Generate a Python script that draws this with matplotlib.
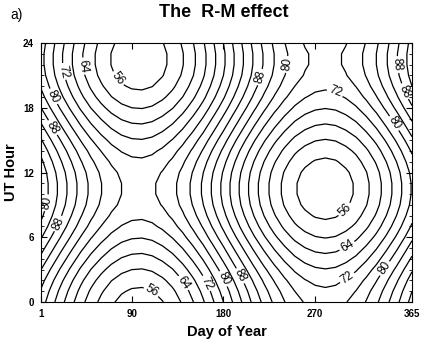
import numpy as np
import matplotlib

matplotlib.use("Agg")
import matplotlib.pyplot as plt
from matplotlib.ticker import MultipleLocator

plt.rcParams["font.family"] = ["Liberation Sans", "DejaVu Sans"]

# Day-of-year samples and the seasonal part of the tilt angle (deg)
days = [1, 10, 20, 30, 40, 50, 60, 70, 80, 90, 100, 110, 120, 130, 140, 150, 160, 170, 180,
        190, 200, 210, 220, 230, 240, 250, 260, 270, 280, 290, 300, 310, 320, 330, 340, 350,
        360, 365]
annual_offset = [-2.2, 1.8, 6.2, 10.4, 14.4, 17.9, 20.8, 23.2, 24.9, 25.8, 26.0, 25.4, 24.0,
                 22.0, 19.3, 16.0, 12.3, 8.1, 3.8, -0.7, -5.1, -9.4, -13.4, -17.0, -20.1,
                 -22.7, -24.5, -25.6, -26.0, -25.6, -24.4, -22.6, -20.0, -16.9, -13.2, -9.2,
                 -4.9, -2.7]

# UT hour samples and the diurnal (dipole) part of the tilt angle (deg)
hours = list(range(25))
diurnal_offset = [10.2, 8.7, 6.7, 4.2, 1.4, -1.4, -4.2, -6.7, -8.7, -10.2, -10.9, -10.9, -10.2,
                  -8.7, -6.7, -4.2, -1.4, 1.4, 4.2, 6.7, 8.7, 10.2, 10.9, 10.9, 10.2]

# contour values shown on the chart (angle = 90 - |tilt|)
angle_levels = [56, 60, 64, 68, 72, 76, 80, 84, 88]
labeled_angles = [56, 64, 72, 80, 88]

# where the reference puts its contour labels (day, hour)
label_spots = [
    (75, 20.6), (113, 2.0), (306, 7.8),
    (39, 21.8), (145, 2.0), (304, 4.8),
    (19, 21.3), (165, 1.8), (290, 19.6), (301, 2.3),
    (12, 19.0), (6, 9.2), (243, 22.0), (181, 2.2), (337, 3.2), (353, 16.9),
    (15, 16.3), (17, 7.3), (214, 20.9), (198, 2.5), (351, 22.0), (355, 19.4),
]

# signed tilt; contouring it at +-(90 - angle) gives the angle contours without the 90 crease
tilt = np.add.outer(np.array(annual_offset), np.array(diurnal_offset)).T


def tilt_levels(angles):
    lv = [-(90 - a) for a in angles] + [90 - a for a in angles]
    return sorted(lv)


def angle_fmt(v):
    return f"{90 - abs(v):.0f}"


fig = plt.figure(figsize=(4.23, 3.44), dpi=100)
ax = fig.add_axes([0.097, 0.122, 0.877, 0.753])

plain = [a for a in angle_levels if a not in labeled_angles]
ax.contour(days, hours, tilt, levels=tilt_levels(plain), colors="black",
           linewidths=0.9, linestyles="solid")
cs = ax.contour(days, hours, tilt, levels=tilt_levels(labeled_angles), colors="black",
                linewidths=0.9, linestyles="solid")
ax.clabel(cs, manual=label_spots, inline=True, inline_spacing=2, fmt=angle_fmt, fontsize=8.5)

ax.set_xlim(1, 365)
ax.set_ylim(0, 24)
ax.set_xticks([1, 90, 180, 270, 365])
ax.set_yticks([0, 6, 12, 18, 24])
ax.yaxis.set_minor_locator(MultipleLocator(1))
ax.tick_params(which="both", direction="in", top=True, right=True, labelsize=7, pad=5)
ax.tick_params(which="major", length=4, width=0.8)
ax.tick_params(which="minor", length=2, width=0.6)
for lbl in ax.get_xticklabels() + ax.get_yticklabels():
    lbl.set_fontweight("bold")
for sp in ax.spines.values():
    sp.set_linewidth(0.8)

ax.set_xlabel("Day of Year", fontsize=10.5, fontweight="bold", labelpad=4)
ax.set_ylabel("UT Hour", fontsize=10.5, fontweight="bold", labelpad=4)
fig.text(0.53, 0.963, "The  R-M effect", fontsize=13, fontweight="bold",
         ha="center", va="center")
fig.text(0.025, 0.955, "a)", fontsize=10, va="center", ha="left")

fig.savefig("out.png", dpi=100)
